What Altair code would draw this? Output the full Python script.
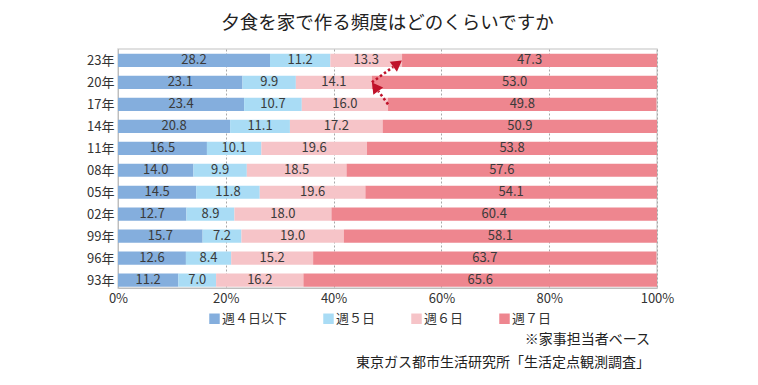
import math
import altair as alt
import pandas as pd

# ---- data (top row first) ----
years = ["23年", "20年", "17年", "14年", "11年", "08年", "05年", "02年", "99年", "96年", "93年"]
series = ["週４日以下", "週５日", "週６日", "週７日"]
w4 = [28.2, 23.1, 23.4, 20.8, 16.5, 14.0, 14.5, 12.7, 15.7, 12.6, 11.2]
w5 = [11.2, 9.9, 10.7, 11.1, 10.1, 9.9, 11.8, 8.9, 7.2, 8.4, 7.0]
w6 = [13.3, 14.1, 16.0, 17.2, 19.6, 18.5, 19.6, 18.0, 19.0, 15.2, 16.2]
w7 = [47.3, 53.0, 49.8, 50.9, 53.8, 57.6, 54.1, 60.4, 58.1, 63.7, 65.6]
colors = ["#84AEDD", "#A9DCF5", "#F6C4C8", "#EE868F"]
arrows = [("17年", "20年"), ("20年", "23年")]
x_ticks = [0, 20, 40, 60, 80, 100]
title_text = "夕食を家で作る頻度はどのくらいですか"
notes = ["※家事担当者ベース", "東京ガス都市生活研究所「生活定点観測調査」"]

FONT = "Noto Sans CJK JP"
W, H = 539, 239
YMIN, YMAX = -0.36, 10.52
HALF = 0.3

n = len(years)
idx_of = {y: n - 1 - i for i, y in enumerate(years)}  # 23年 -> 10 (top)

rows = []
for i, y in enumerate(years):
    vals = [w4[i], w5[i], w6[i], w7[i]]
    cum = 0.0
    for s, v in zip(series, vals):
        rows.append(dict(year=y, idx=idx_of[y], series=s, value=v,
                         start=cum, end=cum + v, mid=cum + v / 2,
                         lo=idx_of[y] - HALF, hi=idx_of[y] + HALF,
                         label=f"{v:.1f}"))
        cum += v
df = pd.DataFrame(rows)

def boundary(y):
    i = years.index(y)
    return w4[i] + w5[i] + w6[i]

px_x = W / 100.0
px_y = H / (YMAX - YMIN)
arr_rows = []
for a, b in arrows:
    x1, y1 = boundary(a), idx_of[a]
    x2, y2 = boundary(b), idx_of[b]
    dxp = (x2 - x1) * px_x
    dyp = -(y2 - y1) * px_y
    ang = math.degrees(math.atan2(dxp, -dyp)) % 360
    L = math.hypot(dxp, dyp)
    f = 5.5 / L
    arr_rows.append(dict(x1=x1, y1=y1, x2=x2, y2=y2,
                         hx=x2 - f * (x2 - x1), hy=y2 - f * (y2 - y1),
                         rx2=x2 - 2 * f * (x2 - x1), ry2=y2 - 2 * f * (y2 - y1),
                         angle=ang))
adf = pd.DataFrame(arr_rows)

label_expr = "[" + ",".join(f"'{years[n - 1 - k]}'" for k in range(n)) + "][round(datum.value)]"

xscale = alt.Scale(domain=[0, 100], clamp=True, nice=False)
yscale = alt.Scale(domain=[YMIN, YMAX], nice=False, zero=False)
xaxis = alt.Axis(values=x_ticks, labelExpr="datum.value + '%'", title=None,
                 grid=True, gridDash=[2, 2], gridColor="#a8a8a8", gridWidth=1)
yaxis = alt.Axis(values=list(range(n)), labelExpr=label_expr, title=None,
                 grid=False, tickCount=n)

bars = alt.Chart(df).mark_rect().encode(
    x=alt.X("start:Q", scale=xscale, axis=xaxis),
    x2="end:Q",
    y=alt.Y("lo:Q", scale=yscale, axis=yaxis),
    y2="hi:Q",
    color=alt.Color("series:N", scale=alt.Scale(domain=series, range=colors),
                    sort=series,
                    legend=alt.Legend(title=None, orient="none", legendX=90, legendY=263,
                                      direction="horizontal", columns=4,
                                      symbolType="square", symbolSize=110,
                                      symbolStrokeWidth=0, columnPadding=34,
                                      labelOffset=1, labelFontSize=13, labelFont=FONT,
                                      labelColor="#333")),
)

texts = alt.Chart(df).mark_text(font=FONT, fontSize=13, color="#3a3a3a",
                                baseline="middle").encode(
    x=alt.X("mid:Q", scale=xscale, axis=xaxis),
    y=alt.Y("idx:Q", scale=yscale, axis=yaxis),
    text="label:N",
)

rules = alt.Chart(adf).mark_rule(color="#C0122A", strokeWidth=2.6,
                                 strokeDash=[2.5, 2.5]).encode(
    x=alt.X("x1:Q", scale=xscale, axis=xaxis), x2="rx2:Q",
    y=alt.Y("y1:Q", scale=yscale, axis=yaxis), y2="ry2:Q",
)

heads = alt.Chart(adf).mark_point(shape="triangle-up", filled=True, size=150,
                                  color="#C0122A", opacity=1).encode(
    x=alt.X("hx:Q", scale=xscale, axis=xaxis),
    y=alt.Y("hy:Q", scale=yscale, axis=yaxis),
    angle=alt.Angle("angle:Q", scale=None),
)

title = alt.Chart(pd.DataFrame({"t": [title_text]})).mark_text(
    font=FONT, fontSize=18.5, color="#222", align="center", baseline="middle"
).encode(x=alt.value(W / 2), y=alt.value(-26.5), text="t:N")

note1 = alt.Chart(pd.DataFrame({"t": [notes[0]]})).mark_text(
    font=FONT, fontSize=14, color="#222", align="right", baseline="middle"
).encode(x=alt.value(532), y=alt.value(291), text="t:N")

note2 = alt.Chart(pd.DataFrame({"t": [notes[1]]})).mark_text(
    font=FONT, fontSize=14, color="#222", align="right", baseline="middle"
).encode(x=alt.value(532), y=alt.value(314), text="t:N")

chart = alt.layer(bars, texts, rules, heads, title, note1, note2).properties(
    width=W, height=H,
    autosize=alt.AutoSizeParams(type="none"),
    padding={"left": 110, "top": 41, "right": 80, "bottom": 90},
).configure_view(
    stroke="#d6d6d6", strokeWidth=1.5
).configure_axis(
    labelOverlap=False, labelFlush=False, ticks=False, labelPadding=4,
    labelFontSize=13, labelColor="#333", domainColor="#bdbdbd", labelFont=FONT,
    labelBound=False
)

chart.save("out.html", embed_options={"renderer": "svg", "actions": False})
